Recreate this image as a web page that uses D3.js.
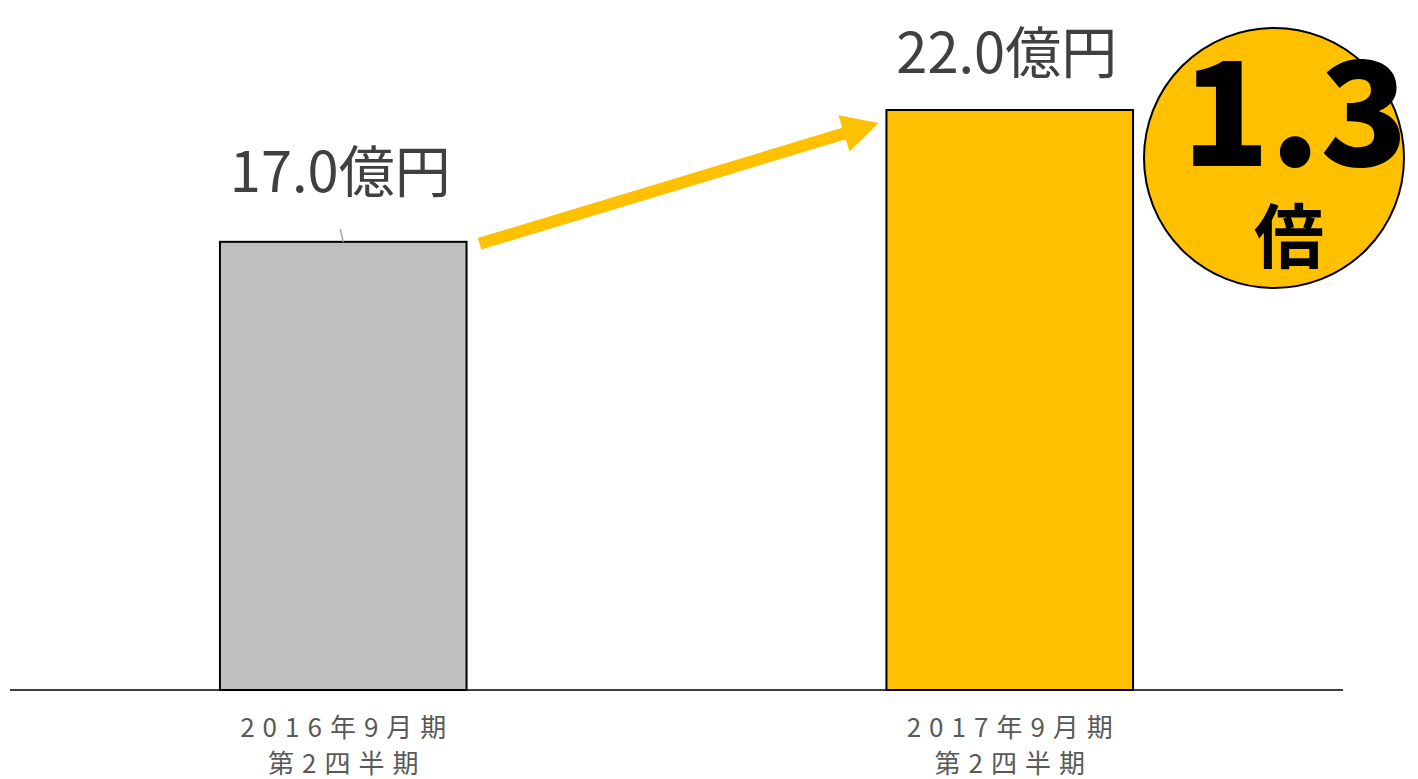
<!DOCTYPE html>
<html>
<head>
<meta charset="utf-8">
<script src="https://cdn.jsdelivr.net/npm/d3@7"></script>
<style>
  html, body { margin: 0; padding: 0; background: #fff; }
  svg { display: block; }
  text { font-family: "Noto Sans CJK JP", "Noto Sans", sans-serif; }
</style>
</head>
<body>
<main></main>
<script>
'use strict';

// data
const periods = ['2016年9月期', '2017年9月期'];
const quarters = ['第2四半期', '第2四半期'];
const sales = [17.0, 22.0];
const unit = '億円';
const ratioText = '1.3';
const ratioUnit = '倍';
const barColors = ['#BFBFBF', '#FFC000'];

const W = 1418, H = 779;
const base = 690;

const svg = d3.select('main')
  .append('svg')
  .attr('width', W)
  .attr('height', H);

const x = d3.scaleBand()
  .domain(d3.range(sales.length))
  .range([10, 1343])
  .paddingInner(0.63)
  .paddingOuter(0.315);

const y = d3.scaleLinear()
  .domain([0, 22])
  .range([base, 110]);

// bars
svg.selectAll('rect.bar')
  .data(sales)
  .enter()
  .append('rect')
  .attr('class', 'bar')
  .attr('x', (d, i) => x(i))
  .attr('y', d => y(d))
  .attr('width', x.bandwidth())
  .attr('height', d => base - y(d))
  .attr('fill', (d, i) => barColors[i])
  .attr('stroke', '#000')
  .attr('stroke-width', 2);

// baseline
svg.append('line')
  .attr('x1', 10)
  .attr('x2', 1343)
  .attr('y1', base)
  .attr('y2', base)
  .attr('stroke', '#000')
  .attr('stroke-width', 1.5);

// value labels (first one sits a bit higher, with a small leader line)
const gap = i => i === 0 ? 50 : 37;
svg.selectAll('text.value')
  .data(sales)
  .enter()
  .append('text')
  .attr('class', 'value')
  .attr('x', (d, i) => x(i) + x.bandwidth() / 2 - 3)
  .attr('y', (d, i) => y(d) - gap(i))
  .attr('text-anchor', 'middle')
  .attr('fill', '#404040')
  .style('font-size', '56px')
  .text(d => d.toFixed(1) + unit);

svg.append('line')
  .attr('x1', x(0) + x.bandwidth() / 2 - 3)
  .attr('y1', y(sales[0]) - 13)
  .attr('x2', x(0) + x.bandwidth() / 2)
  .attr('y2', y(sales[0]))
  .attr('stroke', '#A6A6A6')
  .attr('stroke-width', 1.5);

// category labels
const cat = svg.selectAll('g.cat')
  .data(periods)
  .enter()
  .append('g')
  .attr('class', 'cat')
  .attr('transform', (d, i) => 'translate(' + (x(i) + x.bandwidth() / 2 + 4) + ',0)');

cat.append('text')
  .attr('y', 737)
  .attr('text-anchor', 'middle')
  .attr('fill', '#595959')
  .style('font-size', '26px')
  .style('letter-spacing', '8px')
  .text(d => d);

cat.append('text')
  .attr('y', 773)
  .attr('text-anchor', 'middle')
  .attr('fill', '#595959')
  .style('font-size', '26px')
  .style('letter-spacing', '8px')
  .text((d, i) => quarters[i]);

// growth arrow
const x0 = x(0) + x.bandwidth() + 13, y0 = y(sales[0]) + 2;
const x1 = x(1) - 8, y1 = y(sales[1]) + 13;
const ang = Math.atan2(y1 - y0, x1 - x0);
const headLen = 36, headW = 19, shaft = 6;
const ux = Math.cos(ang), uy = Math.sin(ang);
const nx = -uy, ny = ux;
const bx = x1 - ux * headLen, by = y1 - uy * headLen;
const arrowPts = [
  [x0 + nx * shaft, y0 + ny * shaft],
  [bx + nx * shaft, by + ny * shaft],
  [bx + nx * headW, by + ny * headW],
  [x1, y1],
  [bx - nx * headW, by - ny * headW],
  [bx - nx * shaft, by - ny * shaft],
  [x0 - nx * shaft, y0 - ny * shaft]
];
svg.append('path')
  .attr('d', d3.line()(arrowPts) + 'Z')
  .attr('fill', '#FFC000');

// ratio badge
const badge = svg.append('g')
  .attr('transform', 'translate(1274,158)');

badge.append('circle')
  .attr('r', 130)
  .attr('fill', '#FFC000')
  .attr('stroke', '#000')
  .attr('stroke-width', 2);

badge.append('text')
  .attr('x', 21)
  .attr('y', 8)
  .attr('text-anchor', 'middle')
  .attr('fill', '#000')
  .style('font-size', '144px')
  .style('font-weight', 900)
  .text(ratioText);

badge.append('text')
  .attr('x', 15)
  .attr('y', 74)
  .attr('text-anchor', 'middle')
  .attr('dominant-baseline', 'central')
  .attr('fill', '#000')
  .style('font-size', '70px')
  .style('font-weight', 700)
  .text(ratioUnit);
</script>
</body>
</html>
